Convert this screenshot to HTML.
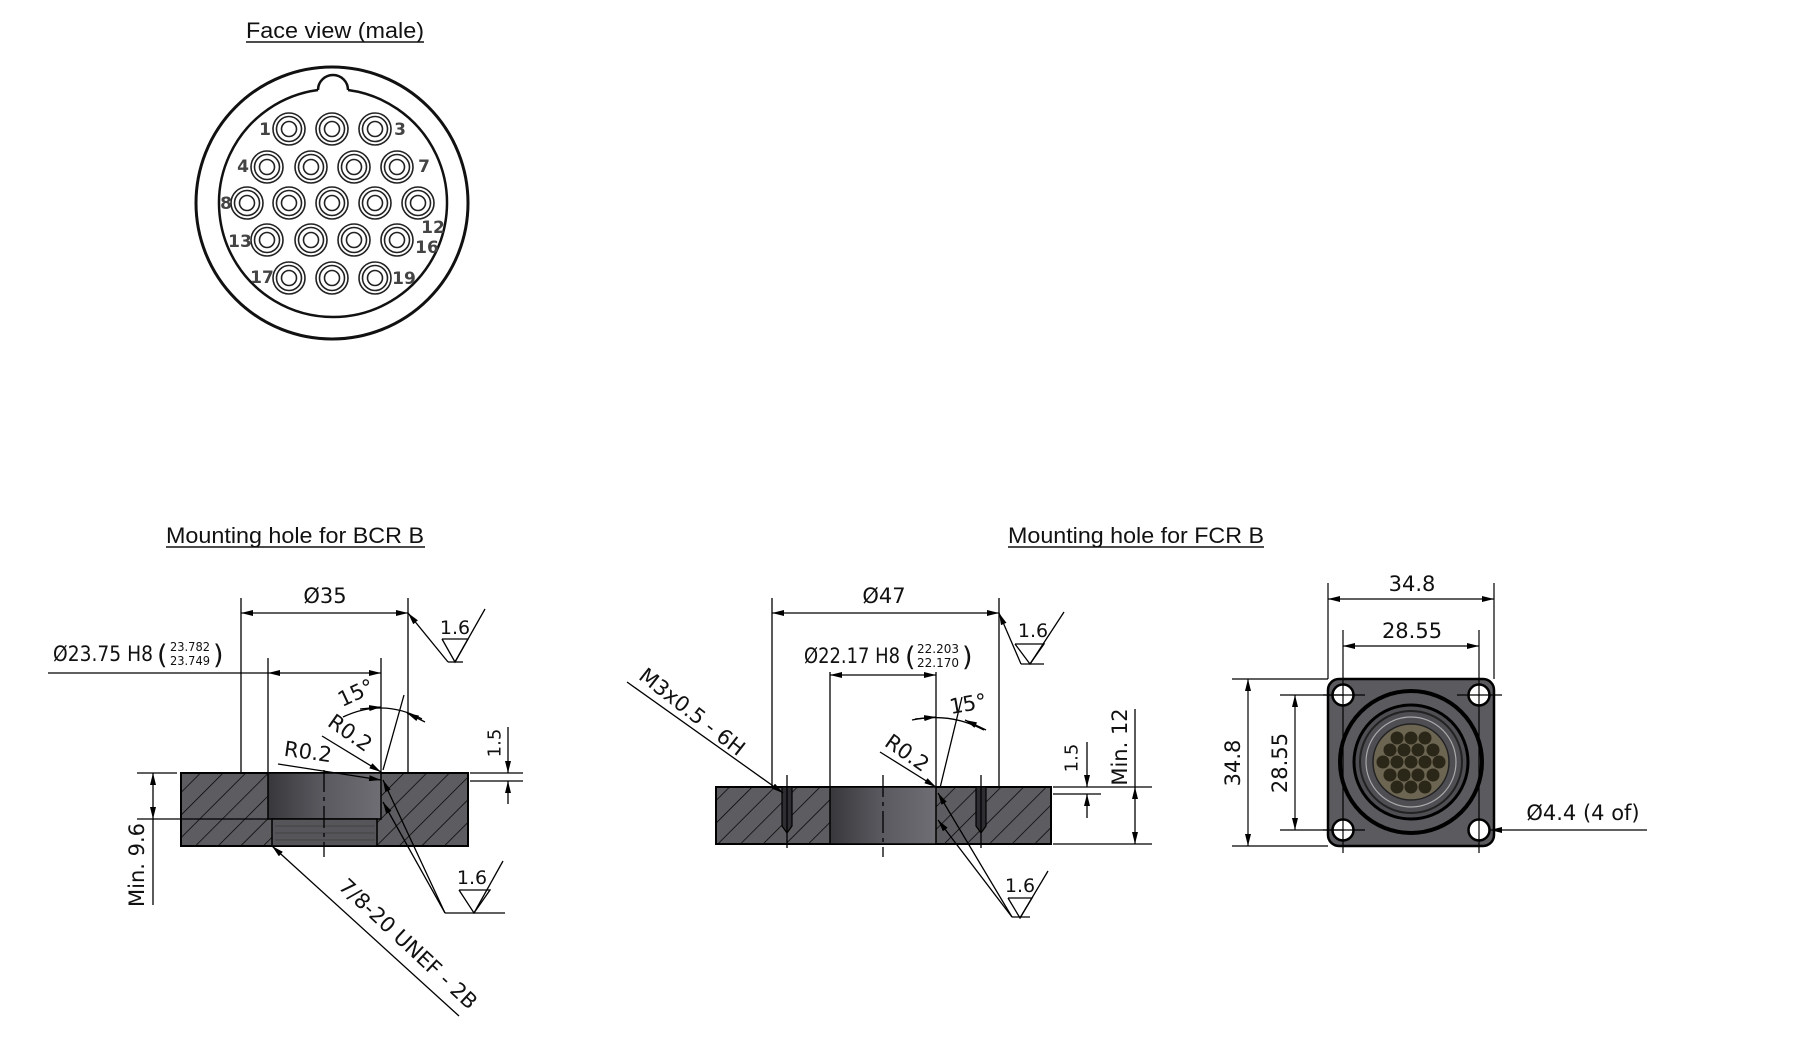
<!DOCTYPE html>
<html><head><meta charset="utf-8"><style>
html,body{margin:0;padding:0;background:#fff;}
svg{display:block;}
.t{font-family:"DejaVu Sans","Liberation Sans",sans-serif;fill:#111;}
.h{font-family:"Liberation Sans",Arial,sans-serif;font-size:22px;fill:#111;}
</style></head><body>
<svg width="1800" height="1041" viewBox="0 0 1800 1041" xmlns="http://www.w3.org/2000/svg">
<defs>
<marker id="a" viewBox="0 0 12 6" refX="12" refY="3" markerWidth="12" markerHeight="6" markerUnits="userSpaceOnUse" orient="auto-start-reverse"><path d="M0,0 L12,3 L0,6 z" fill="#000"/></marker>
<pattern id="hatch" width="16" height="16" patternUnits="userSpaceOnUse" patternTransform="rotate(45)"><rect width="16" height="16" fill="#5c5c61"/><line x1="0" y1="0" x2="0" y2="16" stroke="#000" stroke-width="1.4"/></pattern>
<linearGradient id="bore" x1="0" x2="1"><stop offset="0" stop-color="#38383c"/><stop offset="0.5" stop-color="#5a5a60"/><stop offset="1" stop-color="#6e6e74"/></linearGradient>
<g id="c" fill="none" stroke="#222" stroke-width="1.6"><circle r="16"/><circle r="12.5"/><circle r="7.5"/></g>
</defs>

<!-- ===== Face view ===== -->
<text class="h" x="246" y="38" textLength="178" lengthAdjust="spacingAndGlyphs">Face view (male)</text>
<line x1="246" y1="42" x2="424" y2="42" stroke="#111" stroke-width="1.5"/>
<circle cx="332" cy="203" r="136" fill="none" stroke="#111" stroke-width="3"/>
<path d="M318,90 A14,14 0 1 1 348,90" fill="none" stroke="#111" stroke-width="2.5"/>
<path d="M318,90 A114,114 0 1 0 348,90" fill="none" stroke="#111" stroke-width="2.5"/>
<use href="#c" x="289" y="129"/><use href="#c" x="332" y="129"/><use href="#c" x="375" y="129"/>
<use href="#c" x="267" y="167"/><use href="#c" x="311" y="167"/><use href="#c" x="354" y="167"/><use href="#c" x="397" y="167"/>
<use href="#c" x="247" y="203"/><use href="#c" x="289" y="203"/><use href="#c" x="332" y="203"/><use href="#c" x="375" y="203"/><use href="#c" x="418" y="203"/>
<use href="#c" x="267" y="240"/><use href="#c" x="311" y="240"/><use href="#c" x="354" y="240"/><use href="#c" x="397" y="240"/>
<use href="#c" x="289" y="278"/><use href="#c" x="332" y="278"/><use href="#c" x="375" y="278"/>
<g class="t" font-size="17" font-weight="bold" style="fill:#444" text-anchor="middle" dominant-baseline="central">
<text x="265" y="130">1</text><text x="400" y="130">3</text>
<text x="243" y="167">4</text><text x="424" y="167">7</text>
<text x="226" y="204">8</text><text x="433" y="228">12</text>
<text x="240" y="242">13</text><text x="427" y="248">16</text>
<text x="262" y="278">17</text><text x="404" y="279">19</text>
</g>

<!-- ===== BCR ===== -->
<text class="h" x="166" y="543" textLength="258" lengthAdjust="spacingAndGlyphs">Mounting hole for BCR B</text>
<line x1="166" y1="547" x2="425" y2="547" stroke="#111" stroke-width="1.5"/>
<rect x="181" y="773" width="287" height="73" fill="url(#hatch)" stroke="#000" stroke-width="2"/>
<rect x="268" y="773" width="113" height="46" fill="url(#bore)" stroke="#000" stroke-width="1.5"/>
<rect x="272" y="819" width="105" height="27" fill="#55555a" stroke="#000" stroke-width="1.5"/>
<g stroke="#444" stroke-width="1"><line x1="275" y1="826" x2="375" y2="826"/><line x1="275" y1="833" x2="375" y2="833"/><line x1="275" y1="840" x2="375" y2="840"/></g>
<line x1="324" y1="770" x2="324" y2="857" stroke="#000" stroke-width="1.3" stroke-dasharray="22,5,4,5"/>
<g stroke="#000" stroke-width="1.3" fill="none">
<line x1="241" y1="598" x2="241" y2="772"/><line x1="408" y1="598" x2="408" y2="772"/>
<line x1="241" y1="613" x2="408" y2="613" marker-start="url(#a)" marker-end="url(#a)"/>
<line x1="448" y1="662" x2="408" y2="613" marker-end="url(#a)"/>
<polyline points="448,662 463,662"/><polyline points="442,639 468,639 455,662 442,639"/><line x1="455" y1="662" x2="485" y2="609"/>
<line x1="268" y1="658" x2="268" y2="773"/><line x1="381" y1="658" x2="381" y2="773"/>
<line x1="48" y1="673" x2="268" y2="673"/>
<line x1="268" y1="673" x2="381" y2="673" marker-start="url(#a)" marker-end="url(#a)"/>
<line x1="383" y1="770" x2="404" y2="695"/>
<path d="M343,717 Q383,698 422,719"/>
<line x1="360" y1="709" x2="381" y2="707" marker-end="url(#a)"/>
<line x1="425" y1="722" x2="407" y2="713" marker-end="url(#a)"/>
<line x1="322" y1="736" x2="381" y2="772" marker-end="url(#a)"/>
<line x1="278" y1="764" x2="381" y2="780" marker-end="url(#a)"/>
<line x1="470" y1="773" x2="523" y2="773"/><line x1="470" y1="781" x2="523" y2="781"/>
<line x1="508" y1="727" x2="508" y2="773" marker-end="url(#a)"/>
<line x1="508" y1="804" x2="508" y2="781" marker-end="url(#a)"/>
<line x1="137" y1="773" x2="177" y2="773"/><line x1="137" y1="819" x2="268" y2="819"/>
<line x1="153" y1="773" x2="153" y2="819" marker-start="url(#a)" marker-end="url(#a)"/>
<line x1="153" y1="819" x2="153" y2="905"/>
<line x1="445" y1="913" x2="383" y2="780" marker-end="url(#a)"/>
<line x1="445" y1="913" x2="383" y2="802" marker-end="url(#a)"/>
<line x1="445" y1="913" x2="505" y2="913"/>
<polyline points="459,890 490,890 474,913 459,890"/><line x1="474" y1="913" x2="503" y2="861"/>
<line x1="459" y1="1016" x2="272" y2="846" marker-end="url(#a)"/>
</g>
<g class="t" font-size="21">
<text x="325" y="603" text-anchor="middle">Ø35</text>
<text x="455" y="634" text-anchor="middle" font-size="19">1.6</text>
<text x="472" y="884" text-anchor="middle" font-size="19">1.6</text>
<text x="53" y="661" textLength="100" lengthAdjust="spacingAndGlyphs">Ø23.75 H8</text>
<text x="157" y="664" font-size="27">(</text>
<text x="170" y="651" font-size="12.5" textLength="40" lengthAdjust="spacingAndGlyphs">23.782</text>
<text x="170" y="665" font-size="12.5" textLength="40" lengthAdjust="spacingAndGlyphs">23.749</text>
<text x="213" y="664" font-size="27">)</text>
<text transform="translate(356,693) rotate(-25)" text-anchor="middle" dominant-baseline="central">15°</text>
<text transform="translate(350,733) rotate(35)" text-anchor="middle" dominant-baseline="central">R0.2</text>
<text transform="translate(308,752) rotate(8)" text-anchor="middle" dominant-baseline="central">R0.2</text>
<text transform="translate(495,743) rotate(-90)" text-anchor="middle" dominant-baseline="central" font-size="18">1.5</text>
<text transform="translate(137,865) rotate(-90)" text-anchor="middle" dominant-baseline="central">Min. 9.6</text>
<text transform="translate(408,944) rotate(43)" text-anchor="middle" dominant-baseline="central">7/8-20 UNEF - 2B</text>
</g>

<!-- ===== FCR ===== -->
<text class="h" x="1008" y="543" textLength="256" lengthAdjust="spacingAndGlyphs">Mounting hole for FCR B</text>
<line x1="1008" y1="547" x2="1264" y2="547" stroke="#111" stroke-width="1.5"/>
<rect x="716" y="787" width="335" height="57" fill="url(#hatch)" stroke="#000" stroke-width="2"/>
<rect x="830" y="787" width="106" height="57" fill="url(#bore)" stroke="#000" stroke-width="1.5"/>
<g fill="#2e2e32" stroke="#000" stroke-width="1.2">
<path d="M782,787 L782,826 L787,833 L792,826 L792,787 z"/>
<path d="M976,787 L976,826 L981,833 L986,826 L986,787 z"/>
</g>
<g stroke="#000" stroke-width="1.3" fill="none">
<line x1="787" y1="775" x2="787" y2="848"/><line x1="981" y1="775" x2="981" y2="848"/>
<line x1="883" y1="775" x2="883" y2="857" stroke-dasharray="22,5,4,5"/>
<line x1="772" y1="598" x2="772" y2="787"/><line x1="999" y1="598" x2="999" y2="787"/>
<line x1="772" y1="613" x2="999" y2="613" marker-start="url(#a)" marker-end="url(#a)"/>
<line x1="1021" y1="664" x2="999" y2="613" marker-end="url(#a)"/>
<line x1="1021" y1="664" x2="1044" y2="664"/>
<polyline points="1015,644 1044,644 1030,664 1015,644"/><line x1="1030" y1="664" x2="1064" y2="612"/>
<line x1="830" y1="672" x2="830" y2="787"/><line x1="936" y1="672" x2="936" y2="787"/>
<line x1="830" y1="675" x2="936" y2="675" marker-start="url(#a)" marker-end="url(#a)"/>
<line x1="627" y1="682" x2="783" y2="793" marker-end="url(#a)"/>
<line x1="880" y1="752" x2="936" y2="787" marker-end="url(#a)"/>
<line x1="940" y1="788" x2="962" y2="697"/>
<path d="M912,720 Q950,712 984,730"/>
<line x1="915" y1="719" x2="936" y2="717" marker-end="url(#a)"/>
<line x1="986" y1="730" x2="965" y2="720" marker-end="url(#a)"/>
<line x1="1012" y1="917" x2="938" y2="793" marker-end="url(#a)"/>
<line x1="1012" y1="917" x2="938" y2="820" marker-end="url(#a)"/>
<line x1="1012" y1="917" x2="1030" y2="917"/>
<polyline points="1008,898 1032,898 1020,918 1008,898"/><line x1="1020" y1="918" x2="1048" y2="871"/>
<line x1="1053" y1="787" x2="1101" y2="787"/><line x1="1053" y1="794" x2="1101" y2="794"/>
<line x1="1087" y1="742" x2="1087" y2="787" marker-end="url(#a)"/>
<line x1="1087" y1="818" x2="1087" y2="794" marker-end="url(#a)"/>
<line x1="1053" y1="844" x2="1152" y2="844"/><line x1="1101" y1="787" x2="1152" y2="787"/>
<line x1="1135" y1="709" x2="1135" y2="787"/>
<line x1="1135" y1="787" x2="1135" y2="844" marker-start="url(#a)" marker-end="url(#a)"/>
</g>
<g class="t" font-size="21">
<text x="884" y="603" text-anchor="middle">Ø47</text>
<text x="1033" y="637" text-anchor="middle" font-size="19">1.6</text>
<text x="1020" y="892" text-anchor="middle" font-size="19">1.6</text>
<text x="804" y="663" textLength="96" lengthAdjust="spacingAndGlyphs">Ø22.17 H8</text>
<text x="905" y="666" font-size="27">(</text>
<text x="917" y="653" font-size="12.5" textLength="42" lengthAdjust="spacingAndGlyphs">22.203</text>
<text x="917" y="667" font-size="12.5" textLength="42" lengthAdjust="spacingAndGlyphs">22.170</text>
<text x="962" y="666" font-size="27">)</text>
<text transform="translate(692,712) rotate(38)" text-anchor="middle" dominant-baseline="central">M3x0.5 - 6H</text>
<text transform="translate(907,753) rotate(35)" text-anchor="middle" dominant-baseline="central">R0.2</text>
<text transform="translate(968,704) rotate(-10)" text-anchor="middle" dominant-baseline="central">15°</text>
<text transform="translate(1072,758) rotate(-90)" text-anchor="middle" dominant-baseline="central" font-size="18">1.5</text>
<text transform="translate(1120,747) rotate(-90)" text-anchor="middle" dominant-baseline="central">Min. 12</text>
</g>

<!-- ===== Flange view ===== -->
<rect x="1328" y="679" width="166" height="167" rx="11" fill="#5a5a5f" stroke="#000" stroke-width="2.5"/>
<circle cx="1411" cy="762" r="71" fill="none" stroke="#000" stroke-width="4"/>
<circle cx="1411" cy="762" r="57" fill="#4e4e53" stroke="#000" stroke-width="3"/>
<circle cx="1411" cy="762" r="51" fill="none" stroke="#222" stroke-width="2"/>
<circle cx="1411" cy="762" r="45" fill="none" stroke="#aaa" stroke-width="1.2"/>
<circle cx="1411" cy="762" r="38" fill="#6c6552" stroke="#222" stroke-width="1.5"/>
<g fill="#2a2618">
<circle cx="1397" cy="738" r="6.5"/><circle cx="1411" cy="738" r="6.5"/><circle cx="1425" cy="738" r="6.5"/>
<circle cx="1390" cy="750" r="6.5"/><circle cx="1404" cy="750" r="6.5"/><circle cx="1418" cy="750" r="6.5"/><circle cx="1433" cy="750" r="6.5"/>
<circle cx="1383" cy="762" r="6.5"/><circle cx="1397" cy="762" r="6.5"/><circle cx="1411" cy="762" r="6.5"/><circle cx="1425" cy="762" r="6.5"/><circle cx="1439" cy="762" r="6.5"/>
<circle cx="1390" cy="775" r="6.5"/><circle cx="1404" cy="775" r="6.5"/><circle cx="1418" cy="775" r="6.5"/><circle cx="1433" cy="775" r="6.5"/>
<circle cx="1397" cy="787" r="6.5"/><circle cx="1411" cy="787" r="6.5"/><circle cx="1425" cy="787" r="6.5"/>
</g>
<g fill="#fff" stroke="#000" stroke-width="2.5">
<circle cx="1343" cy="695" r="10.5"/><circle cx="1479" cy="695" r="10.5"/><circle cx="1343" cy="830" r="10.5"/><circle cx="1479" cy="830" r="10.5"/>
</g>
<g stroke="#000" stroke-width="1.2" fill="none">
<line x1="1323" y1="695" x2="1365" y2="695"/><line x1="1457" y1="695" x2="1502" y2="695"/>
<line x1="1323" y1="830" x2="1365" y2="830"/>
<line x1="1343" y1="630" x2="1343" y2="853"/><line x1="1479" y1="630" x2="1479" y2="853"/>
<line x1="1328" y1="583" x2="1328" y2="679"/><line x1="1494" y1="583" x2="1494" y2="679"/>
<line x1="1328" y1="599" x2="1494" y2="599" marker-start="url(#a)" marker-end="url(#a)"/>
<line x1="1343" y1="646" x2="1479" y2="646" marker-start="url(#a)" marker-end="url(#a)"/>
<line x1="1232" y1="679" x2="1328" y2="679"/><line x1="1232" y1="846" x2="1328" y2="846"/>
<line x1="1248" y1="679" x2="1248" y2="846" marker-start="url(#a)" marker-end="url(#a)"/>
<line x1="1280" y1="695" x2="1343" y2="695"/><line x1="1280" y1="830" x2="1343" y2="830"/>
<line x1="1295" y1="695" x2="1295" y2="830" marker-start="url(#a)" marker-end="url(#a)"/>
<line x1="1647" y1="830" x2="1490" y2="830" marker-end="url(#a)"/>
</g>
<g class="t" font-size="21" text-anchor="middle">
<text x="1412" y="591">34.8</text>
<text x="1412" y="638">28.55</text>
<text transform="translate(1233,763) rotate(-90)" dominant-baseline="central">34.8</text>
<text transform="translate(1280,763) rotate(-90)" dominant-baseline="central">28.55</text>
<text x="1583" y="820">Ø4.4 (4 of)</text>
</g>
</svg>
</body></html>
